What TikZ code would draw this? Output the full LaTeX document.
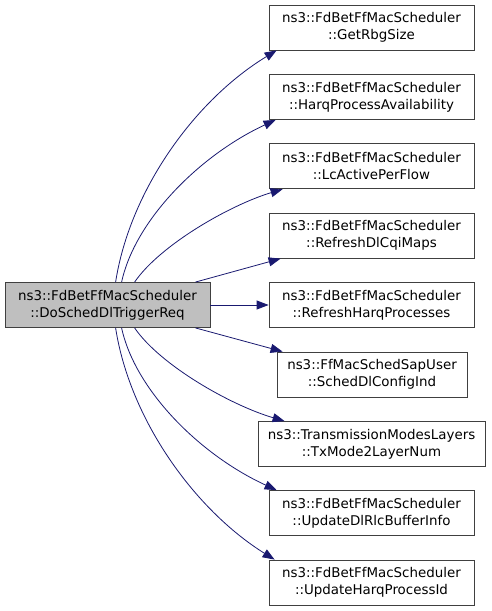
\documentclass[tikz,border=0pt]{standalone}
\usepackage{fontspec}
\setmainfont{DejaVu Sans}
\usetikzlibrary{arrows.meta,calc}
\definecolor{edgeblue}{HTML}{191970}
\definecolor{nodeborder}{HTML}{404040}
\definecolor{rootfill}{HTML}{BFBFBF}
\begin{document}
\begin{tikzpicture}[x=1pt,y=-1pt,
  box/.style={draw=nodeborder, line width=0.8pt, fill=white, align=center,
    minimum height=45pt, inner sep=0pt, font=\fontsize{13.4}{17}\selectfont},
  rootbox/.style={box, fill=rootfill},
  call/.style={draw=edgeblue, line width=0.8pt, -{Triangle[length=12pt,width=9pt]}}]
\useasboundingbox (0,0) rectangle (491,611);

\node[rootbox, minimum width=205pt] (L) at (107.5,305) {ns3::FdBetFfMacScheduler\\::DoSchedDlTriggerReq};

\node[box, minimum width=205pt] (n1) at (371.5,27.5) {ns3::FdBetFfMacScheduler\\::GetRbgSize};
\node[box, minimum width=205pt] (n2) at (371.5,97) {ns3::FdBetFfMacScheduler\\::HarqProcessAvailability};
\node[box, minimum width=205pt] (n3) at (371.5,166.3) {ns3::FdBetFfMacScheduler\\::LcActivePerFlow};
\node[box, minimum width=205pt] (n4) at (371.5,235.7) {ns3::FdBetFfMacScheduler\\::RefreshDlCqiMaps};
\node[box, minimum width=205pt] (n5) at (371.5,305) {ns3::FdBetFfMacScheduler\\::RefreshHarqProcesses};
\node[box, minimum width=190pt] (n6) at (372,374.5) {ns3::FfMacSchedSapUser\\::SchedDlConfigInd};
\node[box, minimum width=227pt] (n7) at (371.5,444) {ns3::TransmissionModesLayers\\::TxMode2LayerNum};
\node[box, minimum width=205pt] (n8) at (371.5,513) {ns3::FdBetFfMacScheduler\\::UpdateDlRlcBufferInfo};
\node[box, minimum width=205pt] (n9) at (371.5,582.5) {ns3::FdBetFfMacScheduler\\::UpdateHarqProcessId};

\draw[call] ($(L.north west)+(111,0)$) .. controls (130,190) and (195,100) .. ($(n1.south west)+(8,0)$);
\draw[call] ($(L.north west)+(117,0)$) .. controls (135,220) and (200,155) .. ($(n2.south west)+(7,0)$);
\draw[call] ($(L.north west)+(130,0)$) .. controls (160,245) and (230,205) .. ($(n3.south west)+(14,0)$);
\draw[call] ($(L.north east)+(-15,0)$) -- ($(n4.south west)+(12,0)$);
\draw[call] (L.east) -- (n5.west);
\draw[call] ($(L.south east)+(-15,0)$) -- ($(n6.north west)+(6,0)$);
\draw[call] ($(L.south west)+(130,0)$) .. controls (160,365) and (230,405) .. ($(n7.north west)+(27,0)$);
\draw[call] ($(L.south west)+(117,0)$) .. controls (135,390) and (200,455) .. ($(n8.north west)+(8,0)$);
\draw[call] ($(L.south west)+(111,0)$) .. controls (130,420) and (195,510) .. ($(n9.north west)+(6,0)$);
\end{tikzpicture}
\end{document}
